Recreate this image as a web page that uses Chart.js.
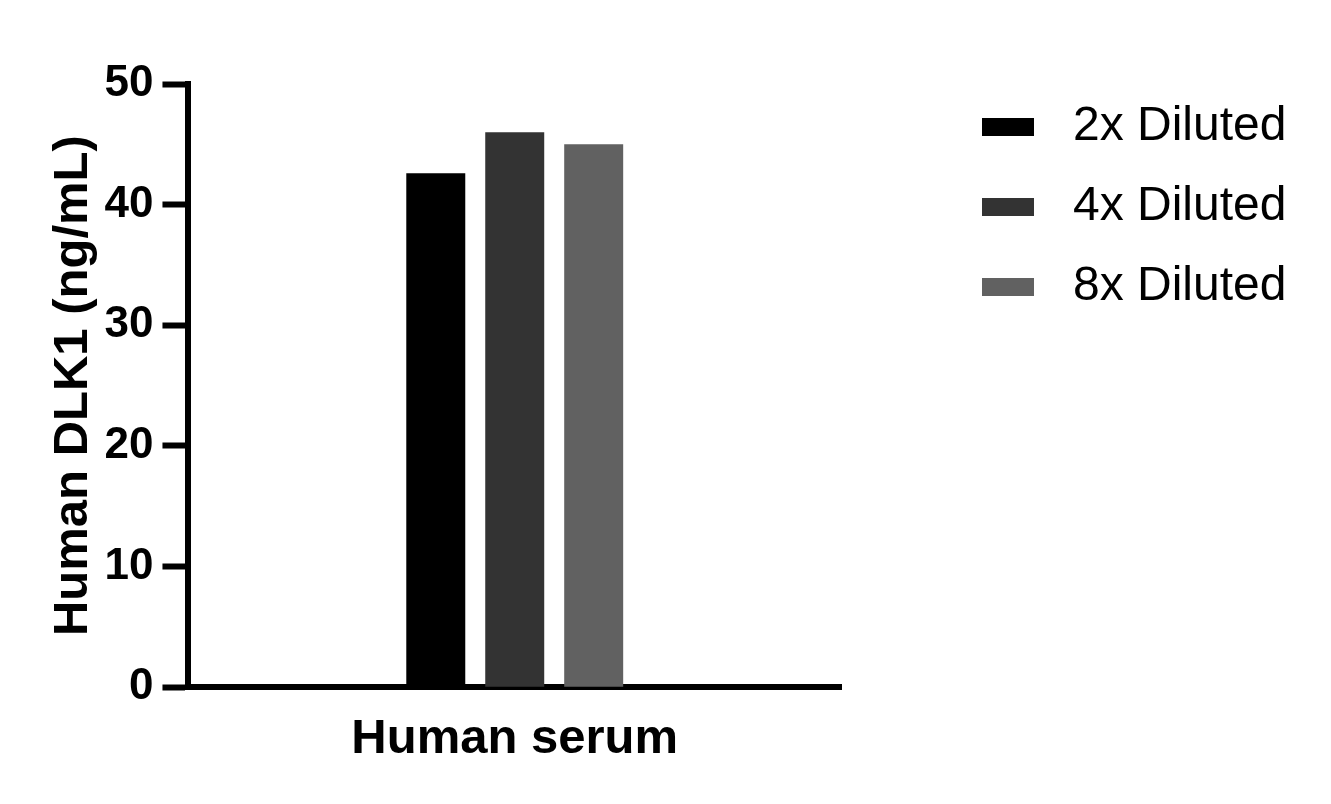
<!DOCTYPE html>
<html>
<head>
<meta charset="utf-8">
<script src="https://cdn.jsdelivr.net/npm/chart.js@4/dist/chart.umd.min.js"></script>
<style>
  html, body { margin: 0; padding: 0; background: #fff; }
  canvas { display: block; }
</style>
</head>
<body>
<canvas id="grafico" width="1331" height="804"></canvas>
<script>
const categorias = ['Human serum'];
const series = ['2x Diluted', '4x Diluted', '8x Diluted'];
const valores = [[42.6], [46.0], [45.0]];
const cores = ['#000000', '#333333', '#616161'];
const yTicks = [0, 10, 20, 30, 40, 50];

const fonte = 'Arial, "Liberation Sans", sans-serif';

// legenda desenhada à mão, fica mais parecida com o original
const legendaPlugin = {
    id: 'legenda',
    afterDraw(chart) {
        const ctx = chart.ctx;
        ctx.save();
        ctx.font = '48px ' + fonte;
        ctx.textBaseline = 'middle';
        ctx.textAlign = 'left';
        chart.data.datasets.forEach((ds, i) => {
            const y = 127 + i * 80;
            ctx.fillStyle = ds.backgroundColor;
            ctx.fillRect(982, y - 9, 52, 18);
            ctx.fillStyle = '#000';
            ctx.fillText(ds.label, 1073, y);
        });
        ctx.restore();
    }
};

new Chart(document.getElementById('grafico'), {
    type: 'bar',
    data: {
        labels: categorias,
        datasets: series.map((s, i) => ({
            label: s,
            data: valores[i],
            backgroundColor: cores[i],
            borderWidth: 0,
            categoryPercentage: 0.363,
            barPercentage: 0.747,
        })),
    },
    options: {
        responsive: false,
        animation: false,
        devicePixelRatio: 1,
        layout: {
            padding: { left: 52, right: 490, top: 84, bottom: 12 },
        },
        plugins: {
            legend: { display: false },
            tooltip: { enabled: false },
        },
        scales: {
            x: {
                grid: { display: false, drawTicks: false, tickLength: 0 },
                border: { display: true, color: '#000', width: 6 },
                ticks: {
                    color: '#000',
                    padding: 23,
                    font: { family: fonte, size: 49, weight: 'bold' },
                },
            },
            y: {
                min: 0,
                max: 50,
                afterBuildTicks: (axis) => {
                    axis.ticks = yTicks.map((v) => ({ value: v }));
                },
                grid: {
                    drawOnChartArea: false,
                    drawTicks: true,
                    tickLength: 26,
                    tickWidth: 6,
                    tickColor: '#000',
                },
                border: { display: true, color: '#000', width: 6 },
                ticks: {
                    color: '#000',
                    padding: 9,
                    font: { family: fonte, size: 44, weight: 'bold' },
                },
                title: {
                    display: true,
                    text: 'Human DLK1 (ng/mL)',
                    color: '#000',
                    font: { family: fonte, size: 49, weight: 'bold', lineHeight: 0.725 },
                },
            },
        },
    },
    plugins: [legendaPlugin],
});
</script>
</body>
</html>
